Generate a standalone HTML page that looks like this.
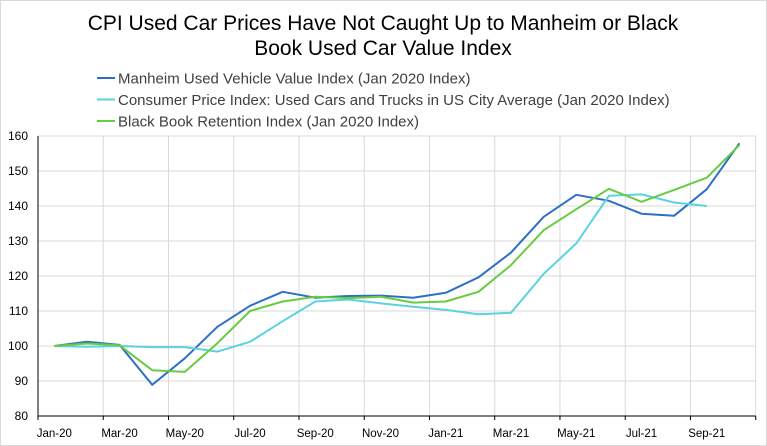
<!DOCTYPE html>
<html><head><meta charset="utf-8"><style>
html,body{margin:0;padding:0;background:#fff;}
svg{display:block;font-family:"Liberation Sans",sans-serif;}
</style></head><body>
<svg id="chart" width="767" height="446" viewBox="0 0 767 446">
<rect x="0.5" y="0.5" width="766" height="445" fill="#fff" stroke="#d9d9d9"/>
<text x="383" y="30" text-anchor="middle" font-size="21" fill="#000">CPI Used Car Prices Have Not Caught Up to Manheim or Black</text>
<text x="383" y="55" text-anchor="middle" font-size="21" fill="#000">Book Used Car Value Index</text>
<g id="legend"></g>
<g id="grid"></g>
<g id="axes"></g>
<g id="series"></g>
</svg>
<script>
const categories = ["Jan-20","Feb-20","Mar-20","Apr-20","May-20","Jun-20","Jul-20","Aug-20","Sep-20","Oct-20","Nov-20","Dec-20","Jan-21","Feb-21","Mar-21","Apr-21","May-21","Jun-21","Jul-21","Aug-21","Sep-21","Oct-21"];
const manheim = [100,101.2,100.3,88.9,96.5,105.5,111.5,115.5,113.8,114.3,114.4,113.8,115.2,119.6,126.7,136.9,143.2,141.5,137.8,137.2,144.8,157.9];
const cpi = [100,99.8,100,99.7,99.7,98.4,101.2,107.1,112.7,113.3,112.2,111.2,110.3,109.05,109.5,120.6,129.3,142.9,143.3,141,140,null];
const blackBook = [100,100.7,100.2,93.1,92.6,100.8,110,112.7,114.1,113.7,114.1,112.4,112.7,115.5,123.1,133.1,139.1,144.9,141.2,144.6,148.1,157.4];
const yTicks = [80,90,100,110,120,130,140,150,160];
const seriesNames = ["Manheim Used Vehicle Value Index (Jan 2020 Index)","Consumer Price Index: Used Cars and Trucks in US City Average (Jan 2020 Index)","Black Book Retention Index (Jan 2020 Index)"];

const NS="http://www.w3.org/2000/svg";
const L=38,R=755.7,T=136,B=416,yMin=80,yMax=160;
const bw=(R-L)/categories.length;
function x(i){return L+bw*(i+0.5);}
function y(v){return B-(v-yMin)/(yMax-yMin)*(B-T);}
function mk(tag,attrs,parent){const e=document.createElementNS(NS,tag);for(const k in attrs)e.setAttribute(k,attrs[k]);parent.appendChild(e);return e;}
const grid=document.getElementById('grid'),axes=document.getElementById('axes'),ser=document.getElementById('series'),leg=document.getElementById('legend');

yTicks.forEach(t=>{
  if(t!==yMin){const g=mk('line',{x1:L,x2:R,y1:y(t),y2:y(t),stroke:'#d9d9d9','stroke-width':1},grid);
  
  }
  const tx=mk('text',{x:28,y:y(t)+4,'text-anchor':'end','font-size':12,fill:'#000'},axes);
  tx.textContent=t;
  
  
});
for(let i=0;i<=categories.length;i+=2){
  const xx=L+bw*i;
  if(i>0){const g=mk('line',{x1:xx,x2:xx,y1:T,y2:B,stroke:'#d9d9d9','stroke-width':1},grid);
  
  }
  const tk=mk('line',{x1:xx,x2:xx,y1:B,y2:B+4,stroke:'#000'},axes);
  
  
}
categories.forEach((c,i)=>{
  if(i%2===0){const tx=mk('text',{x:x(i),y:437,'text-anchor':'middle','font-size':11.5,fill:'#000'},axes);
  tx.textContent=c;
  
  }
});
const ya=mk('line',{x1:L,x2:L,y1:T,y2:B,stroke:'#000'},axes);


const xa=mk('line',{x1:L,x2:R,y1:B,y2:B,stroke:'#000'},axes);



const colors=['#2f6fc3','#5ad3df','#66cc40'];
const data=[manheim,cpi,blackBook];
const ids=['manheim-line','cpi-line','black-book-line'];
data.forEach((d,k)=>{
  let p='';d.forEach((v,i)=>{if(v==null)return;p+=(p?'L':'M')+x(i).toFixed(1)+','+y(v).toFixed(1);});
  const pa=mk('path',{d:p,fill:'none',stroke:colors[k],'stroke-width':2,'stroke-linejoin':'round'},ser);
  
  
});
seriesNames.forEach((n,k)=>{
  const yy=78+k*21.5;
  const ln=mk('line',{x1:97,x2:115,y1:yy,y2:yy,stroke:colors[k],'stroke-width':2},leg);
  
  
  const tx=mk('text',{x:118,y:yy+5.5,'font-size':15,fill:'#404040'},leg);
  tx.textContent=n;
  
  
});
</script>
</body></html>
